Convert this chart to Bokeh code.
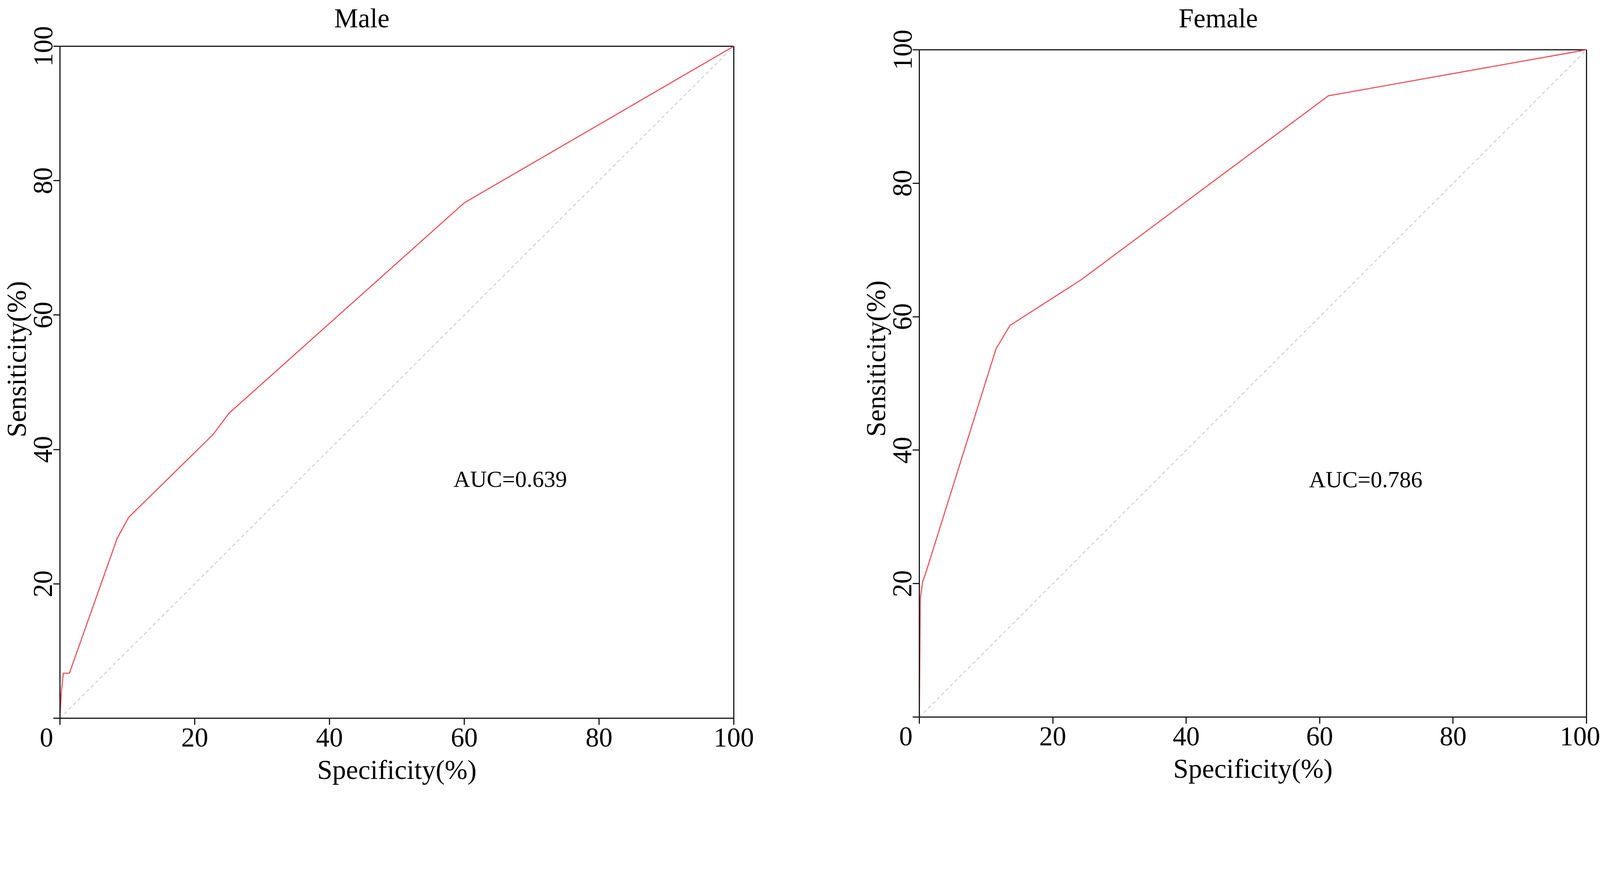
from bokeh.plotting import figure
from bokeh.models import Range1d, FixedTicker, Label, LinearAxis
from bokeh.layouts import row
from bokeh.embed import file_html
from bokeh.resources import INLINE

# ---- data ----
ticks = [0, 20, 40, 60, 80, 100]
diag_x = [0, 100]
diag_y = [0, 100]

male_spec = [0, 0.2, 0.5, 1.4, 8.5, 10.2, 22.7, 25.1, 60.0, 100]
male_sens = [0, 3.8, 6.7, 6.7, 26.8, 29.9, 42.2, 45.4, 76.7, 100]
male_auc = "AUC=0.639"

female_spec = [0, 0.15, 0.5, 0.9, 11.5, 13.6, 24.2, 61.3, 100]
female_sens = [0, 17.7, 20.3, 21.4, 55.2, 58.7, 65.5, 93.1, 100]
female_auc = "AUC=0.786"

FONT = "Liberation Serif"
RED = "#E8505B"
AXC = "#1a1a1a"
NB = "\u00a0"
LO, HI = ticks[0], ticks[-1]


def make_panel(title, spec, sens, auc, fw, box_h, box_top, bl, br, bb,
               title_lift):
    # the frame reaches the top of the figure so the title can live inside it;
    # the plotting box itself spans LO..HI on both axes
    fh = box_h + box_top
    y_top = HI + (HI - LO) * box_top / box_h
    p = figure(frame_width=fw, frame_height=fh,
               min_border_left=bl, min_border_right=br,
               min_border_top=0, min_border_bottom=bb,
               x_range=Range1d(LO, HI), y_range=Range1d(LO, y_top),
               output_backend="svg", toolbar_location=None, tools="",
               title=None)
    p.background_fill_color = "white"
    p.border_fill_color = "white"
    p.grid.visible = False
    p.outline_line_color = None

    for ax in (p.xaxis[0], p.yaxis[0]):
        ax.bounds = (LO, HI)
        ax.ticker = FixedTicker(ticks=ticks)
        ax.minor_tick_line_color = None
        ax.major_tick_in = 0
        ax.major_tick_out = 17
        ax.major_tick_line_width = 3
        ax.major_tick_line_color = AXC
        ax.axis_line_width = 3
        ax.axis_line_color = AXC
        ax.major_label_text_font = FONT
        ax.major_label_text_font_size = "69px"
        ax.major_label_text_color = "black"
        ax.axis_label_text_font = FONT
        ax.axis_label_text_font_size = "70px"
        ax.axis_label_text_font_style = "normal"
        ax.axis_label_text_color = "black"

    # single "0" at the corner, shifted left of the y axis
    p.xaxis.major_label_overrides = {0: "0" + NB * 4}
    p.yaxis.major_label_overrides = {0: ""}

    p.xaxis.axis_label = "Specificity(%)"
    p.yaxis.axis_label = "Sensiticity(%)"
    p.yaxis.major_label_orientation = "vertical"
    p.xaxis.major_label_standoff = -6
    p.xaxis.axis_label_standoff = 3
    p.yaxis.major_label_standoff = 3
    p.yaxis.axis_label_standoff = 4

    # right side of the box
    right = LinearAxis(bounds=(LO, HI), ticker=FixedTicker(ticks=[]),
                       axis_line_width=3, axis_line_color=AXC,
                       major_tick_line_color=None, minor_tick_line_color=None,
                       major_label_text_font_size="0px")
    p.add_layout(right, "right")
    # top side of the box
    p.line([LO, HI], [HI, HI], line_color=AXC, line_width=3)

    p.line(diag_x, diag_y, line_color="#C4C4C4", line_width=2, line_dash="9 7")
    p.line(spec, sens, line_color=RED, line_width=2.8)

    p.add_layout(Label(x=44.8, y=HI, y_offset=title_lift, text=title,
                       text_align="center", text_baseline="alphabetic",
                       text_font=FONT, text_font_size="69px",
                       text_color="black"))
    p.add_layout(Label(x=58.4, y=35.6, text=auc,
                       text_align="left", text_baseline="alphabetic",
                       text_font=FONT, text_font_size="59px",
                       text_color="black"))
    return p


p1 = make_panel("Male", male_spec, male_sens, male_auc,
                1725, 1721, 118, 144, 206, 166, 72)
p2 = make_panel("Female", female_spec, female_sens, female_auc,
                1708, 1709, 127, 269, 35, 169, 81)

layout = row(p1, p2)
open("out.html", "w").write(file_html(layout, INLINE))
